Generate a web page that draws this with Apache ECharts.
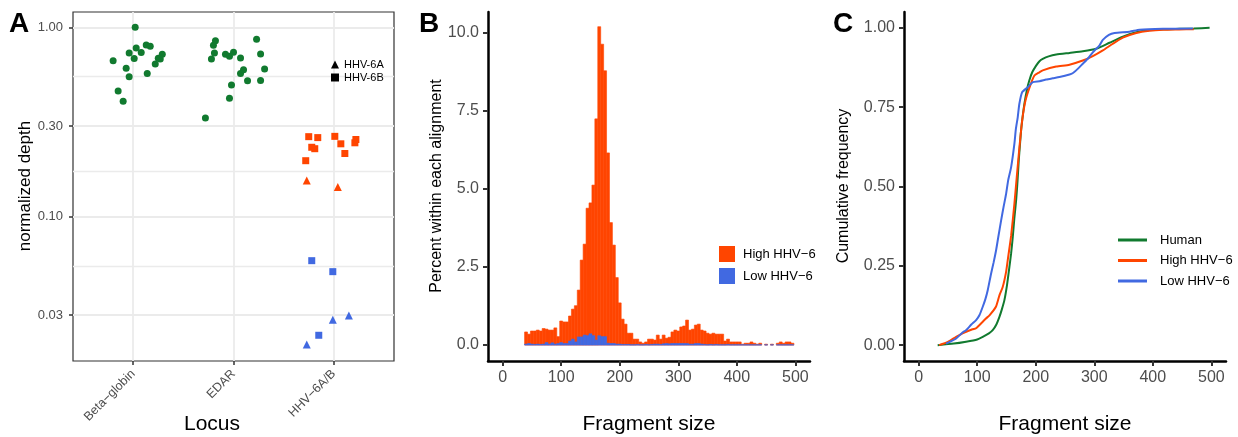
<!DOCTYPE html>
<html>
<head>
<meta charset="utf-8">
<script src="https://cdn.jsdelivr.net/npm/echarts@6/dist/echarts.min.js"></script>
<style>
  html, body { margin: 0; padding: 0; background: #fff; }
  #chart { width: 1238px; height: 437px; }
</style>
</head>
<body>
<div id="chart"></div>
<script>
// ---------- panel A: normalized depth by locus (x = jittered locus position) ----------
const loci = ['Beta\u2212globin', 'EDAR', 'HHV\u22126A/B'];
const depthTicks = [0.03, 0.10, 0.30, 1.00];
const depthMinor = [0.0548, 0.173, 0.548];

const betaGlobin = [[0.80, 0.666], [0.85, 0.460], [0.90, 0.406], [0.93, 0.607], [0.96, 0.731], [0.96, 0.548],
  [1.01, 0.683], [1.02, 1.00], [1.03, 0.777], [1.08, 0.735], [1.13, 0.806], [1.14, 0.569], [1.17, 0.793],
  [1.22, 0.639], [1.25, 0.686], [1.27, 0.680], [1.29, 0.720]];
const edar = [[1.72, 0.331], [1.78, 0.680], [1.80, 0.803], [1.81, 0.731], [1.82, 0.850], [1.92, 0.720],
  [1.96, 0.421], [1.96, 0.702], [1.98, 0.495], [2.00, 0.737], [2.07, 0.688], [2.07, 0.569], [2.10, 0.597],
  [2.14, 0.522], [2.23, 0.864], [2.27, 0.722], [2.27, 0.524], [2.31, 0.602]];
const highHHV6B = [[2.75, 0.264], [2.84, 0.261], [2.78, 0.232], [2.81, 0.228], [2.72, 0.197], [3.01, 0.265],
  [3.07, 0.242], [3.11, 0.215], [3.21, 0.245], [3.22, 0.255]];
const highHHV6A = [[2.73, 0.155], [3.04, 0.143]];
const lowHHV6B = [[2.78, 0.0583], [2.99, 0.0510], [2.85, 0.0235]];
const lowHHV6A = [[2.73, 0.0210], [2.99, 0.0284], [3.15, 0.0299]];

// ---------- panel B: fragment size histogram (5 bp bins, centers) ----------
const binWidth = 5;
const fragmentBins = [40, 45, 50, 55, 60, 65, 70, 75, 80, 85, 90, 95, 100, 105, 110, 115, 120, 125, 130, 135,
  140, 145, 150, 155, 160, 165, 170, 175, 180, 185, 190, 195, 200, 205, 210, 215, 220, 225, 230, 235,
  240, 245, 250, 255, 260, 265, 270, 275, 280, 285, 290, 295, 300, 305, 310, 315, 320, 325, 330, 335,
  340, 345, 350, 355, 360, 365, 370, 375, 380, 385, 390, 395, 400, 405, 410, 415, 420, 425, 430, 435,
  440, 445, 450, 455, 460, 465, 470, 475, 480, 485, 490, 495];
const highPercent = [0.42, 0.35, 0.45, 0.45, 0.48, 0.45, 0.53, 0.51, 0.48, 0.48, 0.55, 0.27, 0.77, 0.74, 0.74, 0.93, 1.15, 1.26, 1.76, 2.72,
  3.23, 4.38, 4.55, 5.12, 7.24, 10.19, 9.63, 8.78, 6.15, 3.92, 3.20, 2.16, 1.35, 0.83, 0.67, 0.38, 0.38, 0.19, 0.19, 0.10,
  0.06, 0.10, 0.19, 0.19, 0.16, 0.32, 0.19, 0.32, 0.22, 0.25, 0.42, 0.48, 0.45, 0.58, 0.61, 0.80, 0.48, 0.51, 0.64, 0.67,
  0.48, 0.45, 0.38, 0.35, 0.38, 0.35, 0.35, 0.35, 0.13, 0.19, 0.10, 0.10, 0.10, 0.10, 0.03, 0.06, 0.06, 0.10, 0.06, 0.03,
  0.06, 0, 0.03, 0, 0.03, 0, 0.06, 0.10, 0.06, 0.10, 0.10, 0.06];
const lowPercent = [0.03, 0.05, 0.03, 0.02, 0.03, 0.02, 0.03, 0.08, 0.03, 0.07, 0.03, 0.05, 0.08, 0.05, 0.05, 0.13, 0.19, 0.10, 0.26, 0.26,
  0.32, 0.30, 0.36, 0.30, 0.16, 0.30, 0.27, 0.27, 0.06, 0.05, 0.05, 0.03, 0.03, 0.02, 0.02, 0.02, 0.01, 0.01, 0.02, 0.01,
  0.01, 0.02, 0.01, 0.02, 0.03, 0.03, 0.02, 0.04, 0.05, 0.04, 0.05, 0.05, 0.05, 0.05, 0.05, 0.05, 0.03, 0.03, 0.05, 0.05,
  0.03, 0.02, 0.01, 0.02, 0.01, 0.02, 0.01, 0.01, 0.01, 0.02, 0.01, 0.01, 0.01, 0.01, 0.01, 0.01, 0.01, 0.01, 0.01, 0.01,
  0.01, 0, 0.01, 0, 0.01, 0, 0.01, 0.01, 0.01, 0.01, 0.01, 0.01];

// ---------- panel C: cumulative frequency of fragment size ----------
const humanCdf = [[32.5, 0], [60, 0.005], [81, 0.011], [100, 0.018], [109.5, 0.026], [120, 0.037], [126.5, 0.047],
  [133, 0.066], [138, 0.089], [142, 0.112], [146.5, 0.142], [151, 0.19], [155, 0.246], [158, 0.29], [160.8, 0.341],
  [163.5, 0.40], [166.5, 0.456], [169, 0.52], [171, 0.582], [173, 0.63], [175, 0.677], [178, 0.725], [180.7, 0.761],
  [185, 0.805], [189, 0.834], [194, 0.86], [200.7, 0.881], [206.4, 0.895], [212, 0.902], [222, 0.91], [235, 0.916],
  [257.7, 0.921], [280.4, 0.926], [303.3, 0.934], [326, 0.953], [348.8, 0.972], [371.7, 0.986], [394.5, 0.993],
  [420, 0.996], [445.8, 0.997], [470, 0.998], [497, 1.0]];
const highCdf = [[35, 0], [50, 0.01], [64, 0.026], [75, 0.037], [92, 0.05], [98, 0.053], [115, 0.084], [121, 0.094],
  [132, 0.121], [138, 0.157], [143.6, 0.183], [149.4, 0.231], [152.2, 0.268], [158, 0.345], [163.6, 0.446],
  [167.6, 0.53], [172.2, 0.624], [176.8, 0.708], [182.5, 0.771], [190.5, 0.818], [197.8, 0.85], [206.4, 0.86],
  [212, 0.866], [235, 0.878], [257.7, 0.884], [280.4, 0.897], [297.5, 0.911], [314.6, 0.929], [331.7, 0.95],
  [348.8, 0.969], [371.7, 0.984], [394.5, 0.991], [417.2, 0.994], [445, 0.995], [470, 0.996]];
const lowCdf = [[46.8, 0.005], [55, 0.012], [64, 0.021], [75, 0.04], [81, 0.047], [90, 0.065], [98.2, 0.079],
  [104, 0.095], [109.5, 0.121], [114, 0.145], [118, 0.173], [123.8, 0.226], [128, 0.26], [132.3, 0.299], [136, 0.34],
  [140.9, 0.393], [145, 0.435], [149.4, 0.477], [153, 0.52], [158, 0.561], [163.6, 0.635], [166, 0.68], [169.3, 0.719],
  [172, 0.76], [176.8, 0.797], [186.4, 0.813], [195, 0.829], [206.4, 0.832], [217.8, 0.837], [229, 0.841],
  [240.6, 0.845], [257.7, 0.853], [263, 0.857], [269.1, 0.866], [280.4, 0.887], [290, 0.905], [297.5, 0.923],
  [309, 0.945], [314.6, 0.962], [325, 0.978], [334.6, 0.984], [360.3, 0.988], [377.4, 0.994], [417.2, 0.997],
  [468.5, 0.998]];

const sizeTicks = [0, 100, 200, 300, 400, 500];
const percentTicks = [0, 2.5, 5, 7.5, 10];
const cumTicks = [0, 0.25, 0.5, 0.75, 1];

const GREEN = '#117a2f', ORANGE = '#ff4500', BLUE = '#4169e1';
const FONT = "'Liberation Sans', Arial, Helvetica, sans-serif";
const LABEL = '#4d4d4d', TICK = '#333333', GRIDLINE = '#ebebeb';

const chart = echarts.init(document.getElementById('chart'));

const log = pts => pts.map(p => [p[0], Math.log10(p[1])]);

function histRender(params, api) {
  const c = api.value(0), h = api.value(1);
  if (!h) return;
  const p0 = api.coord([c - binWidth / 2, h]);
  const p1 = api.coord([c + binWidth / 2, 0]);
  const color = api.visual('color');
  return {
    type: 'rect',
    shape: { x: p0[0], y: p0[1], width: p1[0] - p0[0], height: p1[1] - p0[1] },
    style: { fill: color, stroke: color, lineWidth: 0.6 }
  };
}

function sizeAxis(grid) {
  return {
    gridIndex: grid, type: 'value', min: -25, max: 525,
    axisLine: { onZero: false, lineStyle: { color: '#000', width: 2.5 } },
    axisTick: { customValues: sizeTicks, length: 5, lineStyle: { color: TICK, width: 2 } },
    axisLabel: { customValues: sizeTicks, fontSize: 16, color: LABEL, margin: 9, fontFamily: FONT },
    splitLine: { show: false }
  };
}

function classicY(grid, min, max, ticks, digits) {
  return {
    gridIndex: grid, type: 'value', min: min, max: max,
    axisLine: { show: true, onZero: false, lineStyle: { color: '#000', width: 2.5 } },
    axisTick: { show: true, customValues: ticks, length: 5, lineStyle: { color: TICK, width: 2 } },
    axisLabel: { customValues: ticks, fontSize: 16, color: LABEL, margin: 9, fontFamily: FONT,
      formatter: v => v.toFixed(digits) },
    splitLine: { show: false }
  };
}

const titleText = (text, x, y, size, rotate) => ({
  type: 'text', x: x, y: y, rotation: rotate ? Math.PI / 2 : 0,
  style: { text: text, fontSize: size, fontFamily: FONT, fill: '#000', align: 'center', verticalAlign: 'middle' }
});
const panelLetter = (text, x) => ({
  type: 'text', x: x, y: 24,
  style: { text: text, fontSize: 28, fontWeight: 'bold', fontFamily: FONT, fill: '#000', align: 'left', verticalAlign: 'middle' }
});

const dot = (name, shape, size, color, data) => ({
  name: name, type: 'scatter', xAxisIndex: 0, yAxisIndex: 0, symbol: shape, symbolSize: size,
  itemStyle: { color: color, opacity: 1 }, data: data
});

const option = {
  animation: false,
  textStyle: { fontFamily: FONT },
  grid: [
    { left: 73, top: 12, width: 321, height: 349, show: true, borderColor: '#333', borderWidth: 1.2, backgroundColor: 'transparent' },
    { left: 488, top: 12, width: 322, height: 349 },
    { left: 904, top: 12, width: 322, height: 349 }
  ],
  xAxis: [
    {
      gridIndex: 0, type: 'value', min: 0.4, max: 3.6,
      axisLine: { show: false, onZero: false },
      axisTick: { customValues: [1, 2, 3], length: 4, lineStyle: { color: TICK, width: 1.5 } },
      axisLabel: { customValues: [1, 2, 3], formatter: v => loci[Math.round(v) - 1], rotate: 45,
        fontSize: 12.5, color: LABEL, margin: 11, fontFamily: FONT },
      splitLine: { show: true, lineStyle: { color: GRIDLINE, width: 1.8 } }
    },
    sizeAxis(1),
    sizeAxis(2)
  ],
  yAxis: [
    {
      gridIndex: 0, type: 'value', min: -1.765, max: 0.081,
      axisLine: { show: false, onZero: false },
      axisTick: { show: true, customValues: depthTicks.map(Math.log10), length: 4, lineStyle: { color: TICK, width: 1.5 } },
      axisLabel: { customValues: depthTicks.map(Math.log10), formatter: v => Math.pow(10, v).toFixed(2),
        fontSize: 13, color: LABEL, margin: 10, fontFamily: FONT },
      splitLine: { show: true, lineStyle: { color: GRIDLINE, width: 1.8 } }
    },
    {
      gridIndex: 0, type: 'value', min: -1.765, max: 0.081,
      axisLine: { show: false, onZero: false },
      axisTick: { show: false, customValues: depthMinor.map(Math.log10) },
      axisLabel: { show: false, customValues: depthMinor.map(Math.log10) },
      splitLine: { show: true, lineStyle: { color: GRIDLINE, width: 1.3 } }
    },
    classicY(1, -0.51, 10.66, percentTicks, 1),
    classicY(2, -0.05, 1.05, cumTicks, 2)
  ],
  legend: [
    {
      orient: 'vertical', left: 326, top: 54, itemWidth: 8, itemHeight: 8, itemGap: 2, selectedMode: false,
      textStyle: { fontSize: 11, color: '#000', fontFamily: FONT },
      data: [{ name: 'HHV-6A', icon: 'triangle' }, { name: 'HHV-6B', icon: 'rect' }]
    },
    {
      orient: 'vertical', left: 714, top: 241, itemWidth: 16, itemHeight: 16, itemGap: 6, selectedMode: false,
      textStyle: { fontSize: 13, color: '#000', fontFamily: FONT, padding: [0, 0, 0, 3] },
      data: [{ name: 'High HHV\u22126', icon: 'rect' }, { name: 'Low HHV\u22126', icon: 'rect' }]
    },
    {
      orient: 'vertical', left: 1113, top: 228.5, itemWidth: 29, itemHeight: 3, itemGap: 7.5, selectedMode: false,
      textStyle: { fontSize: 13, color: '#000', fontFamily: FONT, padding: [0, 0, 0, 8] },
      formatter: n => n.replace(' (cdf)', ''),
      data: [{ name: 'Human', icon: 'rect' }, { name: 'High HHV\u22126 (cdf)', icon: 'rect' }, { name: 'Low HHV\u22126 (cdf)', icon: 'rect' }]
    }
  ],
  graphic: [
    panelLetter('A', 9), panelLetter('B', 419), panelLetter('C', 833),
    titleText('normalized depth', 25, 186, 17, true),
    titleText('Locus', 212, 424, 21, false),
    titleText('Percent within each alignment', 437, 186, 16, true),
    titleText('Fragment size', 649, 424, 21, false),
    titleText('Cumulative frequency', 844, 186, 16, true),
    titleText('Fragment size', 1065, 424, 21, false)
  ],
  series: [
    // panel A
    dot('Beta-globin', 'circle', 7, GREEN, log(betaGlobin)),
    dot('EDAR', 'circle', 7, GREEN, log(edar)),
    dot('High 6B', 'rect', 7, ORANGE, log(highHHV6B)),
    dot('High 6A', 'triangle', 8, ORANGE, log(highHHV6A)),
    dot('Low 6B', 'rect', 7, BLUE, log(lowHHV6B)),
    dot('Low 6A', 'triangle', 8, BLUE, log(lowHHV6A)),
    dot('HHV-6A', 'triangle', 8, '#000', []),
    dot('HHV-6B', 'rect', 7, '#000', []),
    // panel B
    { name: 'High HHV\u22126', type: 'custom', xAxisIndex: 1, yAxisIndex: 2, renderItem: histRender,
      itemStyle: { color: ORANGE }, encode: { x: 0, y: 1 },
      data: fragmentBins.map((b, i) => [b, highPercent[i]]) },
    { name: 'Low HHV\u22126', type: 'custom', xAxisIndex: 1, yAxisIndex: 2, renderItem: histRender,
      itemStyle: { color: BLUE }, encode: { x: 0, y: 1 },
      data: fragmentBins.map((b, i) => [b, lowPercent[i]]) },
    // panel C
    { name: 'Human', type: 'line', xAxisIndex: 2, yAxisIndex: 3, symbol: 'none', smooth: 0.2,
      lineStyle: { color: GREEN, width: 2 }, itemStyle: { color: GREEN }, data: humanCdf },
    { name: 'High HHV\u22126 (cdf)', type: 'line', xAxisIndex: 2, yAxisIndex: 3, symbol: 'none', smooth: 0.2,
      lineStyle: { color: ORANGE, width: 2 }, itemStyle: { color: ORANGE }, data: highCdf },
    { name: 'Low HHV\u22126 (cdf)', type: 'line', xAxisIndex: 2, yAxisIndex: 3, symbol: 'none', smooth: 0.2,
      lineStyle: { color: BLUE, width: 2 }, itemStyle: { color: BLUE }, data: lowCdf }
  ]
};

chart.setOption(option);
</script>
</body>
</html>
